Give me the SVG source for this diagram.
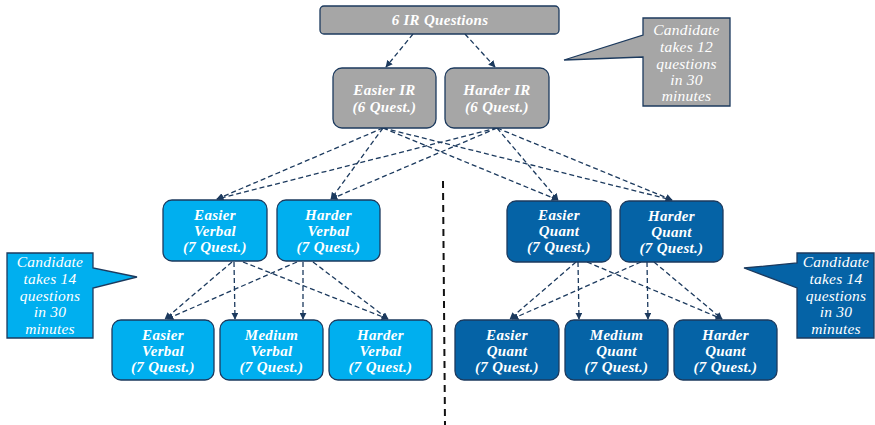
<svg xmlns="http://www.w3.org/2000/svg" width="875" height="425" viewBox="0 0 875 425">
<style>
.n{stroke:#1C3A5E;stroke-width:1.3}
.g{fill:#A6A6A6}
.lb{fill:#00AFEF}
.db{fill:#0563A6}
.t{font-family:"Liberation Serif",serif;font-weight:bold;font-style:italic;font-size:15px;letter-spacing:0.3px;fill:#fff;text-anchor:middle}
.c{font-family:"Liberation Serif",serif;font-style:italic;font-size:15.5px;letter-spacing:0.2px;fill:#fff;text-anchor:middle}
.e{fill:none;stroke:#1C3A5E;stroke-width:1.3;stroke-dasharray:5 3;marker-end:url(#a)}
</style>
<defs>
<marker id="a" viewBox="0 0 10 10" refX="9" refY="5" markerWidth="7" markerHeight="7" markerUnits="userSpaceOnUse" orient="auto"><path d="M0,0 L10,5 L0,10 z" fill="#1C3A5E"/></marker>
</defs>
<g id="connectors">
<path class="e" d="M413,34 L386,67"/>
<path class="e" d="M465,34 L495,67"/>
<path class="e" d="M383,128 L217,199"/>
<path class="e" d="M383,128 L331,199"/>
<path class="e" d="M383,128 L558,200"/>
<path class="e" d="M383,128 L672,200"/>
<path class="e" d="M497,128 L217,199"/>
<path class="e" d="M497,128 L331,199"/>
<path class="e" d="M497,128 L558,200"/>
<path class="e" d="M497,128 L672,200"/>
<path class="e" d="M232,262 L165,319"/>
<path class="e" d="M234,262 L235,319"/>
<path class="e" d="M243,262 L388,319"/>
<path class="e" d="M297,262 L167,319"/>
<path class="e" d="M303,262 L303,319"/>
<path class="e" d="M313,262 L388,319"/>
<path class="e" d="M576,262 L510,319"/>
<path class="e" d="M578,262 L579,319"/>
<path class="e" d="M587,262 L722,319"/>
<path class="e" d="M641,262 L512,319"/>
<path class="e" d="M647,262 L648,319"/>
<path class="e" d="M654,262 L722,319"/>
</g>
<line x1="443" y1="181" x2="445" y2="425" stroke="#111" stroke-width="2" stroke-dasharray="7 5"/>
<g id="top">
<rect class="n g" x="320" y="6" width="239" height="28" rx="4"/>
<text class="t" x="440" y="25">6 IR Questions</text>
</g>
<g id="easier-ir">
<rect class="n g" x="333" y="68" width="103" height="60" rx="9"/>
<text class="t" x="384.5" y="95">Easier IR</text>
<text class="t" x="384.5" y="112">(6 Quest.)</text>
</g>
<g id="harder-ir">
<rect class="n g" x="445" y="68" width="104" height="60" rx="9"/>
<text class="t" x="497" y="95">Harder IR</text>
<text class="t" x="497" y="112">(6 Quest.)</text>
</g>
<g id="callout-ir">
<path class="n g" d="M643,18 H730 V106 H643 V57 L564,60 L643,35 Z"/>
<text class="c" x="686.5" y="35">Candidate</text>
<text class="c" x="686.5" y="52">takes 12</text>
<text class="c" x="686.5" y="69">questions</text>
<text class="c" x="686.5" y="85">in 30</text>
<text class="c" x="686.5" y="101">minutes</text>
</g>
<g id="easier-verbal">
<rect class="n lb" x="163" y="200" width="104" height="61" rx="9"/>
<text class="t" x="215" y="220">Easier</text>
<text class="t" x="215" y="236">Verbal</text>
<text class="t" x="215" y="252">(7 Quest.)</text>
</g>
<g id="harder-verbal">
<rect class="n lb" x="277" y="200" width="103" height="61" rx="9"/>
<text class="t" x="328.5" y="220">Harder</text>
<text class="t" x="328.5" y="236">Verbal</text>
<text class="t" x="328.5" y="252">(7 Quest.)</text>
</g>
<g id="easier-quant">
<rect class="n db" x="507" y="201" width="104" height="61" rx="9"/>
<text class="t" x="559" y="220">Easier</text>
<text class="t" x="559" y="236">Quant</text>
<text class="t" x="559" y="252">(7 Quest.)</text>
</g>
<g id="harder-quant">
<rect class="n db" x="620" y="201" width="103" height="61" rx="9"/>
<text class="t" x="671.5" y="221">Harder</text>
<text class="t" x="671.5" y="237">Quant</text>
<text class="t" x="671.5" y="253">(7 Quest.)</text>
</g>
<g id="callout-verbal">
<path class="n lb" d="M7,253 H93 V268 L137,277 L93,288 V338 H7 Z"/>
<text class="c" x="50" y="267">Candidate</text>
<text class="c" x="50" y="284">takes 14</text>
<text class="c" x="50" y="301">questions</text>
<text class="c" x="50" y="317">in 30</text>
<text class="c" x="50" y="334">minutes</text>
</g>
<g id="callout-quant">
<path class="n db" d="M797,253 H874 V338 H797 V288 L744,268 L797,263 Z"/>
<text class="c" x="836" y="267">Candidate</text>
<text class="c" x="836" y="284">takes 14</text>
<text class="c" x="836" y="301">questions</text>
<text class="c" x="836" y="317">in 30</text>
<text class="c" x="836" y="334">minutes</text>
</g>
<g id="easier-verbal-2">
<rect class="n lb" x="112" y="320" width="102" height="60" rx="9"/>
<text class="t" x="163" y="340">Easier</text>
<text class="t" x="163" y="356">Verbal</text>
<text class="t" x="163" y="372">(7 Quest.)</text>
</g>
<g id="medium-verbal">
<rect class="n lb" x="220" y="320" width="103" height="60" rx="9"/>
<text class="t" x="271.5" y="340">Medium</text>
<text class="t" x="271.5" y="356">Verbal</text>
<text class="t" x="271.5" y="372">(7 Quest.)</text>
</g>
<g id="harder-verbal-2">
<rect class="n lb" x="329" y="320" width="103" height="60" rx="9"/>
<text class="t" x="380.5" y="340">Harder</text>
<text class="t" x="380.5" y="356">Verbal</text>
<text class="t" x="380.5" y="372">(7 Quest.)</text>
</g>
<g id="easier-quant-2">
<rect class="n db" x="455" y="320" width="104" height="60" rx="9"/>
<text class="t" x="507" y="340">Easier</text>
<text class="t" x="507" y="356">Quant</text>
<text class="t" x="507" y="372">(7 Quest.)</text>
</g>
<g id="medium-quant">
<rect class="n db" x="565" y="320" width="103" height="60" rx="9"/>
<text class="t" x="616.5" y="340">Medium</text>
<text class="t" x="616.5" y="356">Quant</text>
<text class="t" x="616.5" y="372">(7 Quest.)</text>
</g>
<g id="harder-quant-2">
<rect class="n db" x="674" y="320" width="103" height="60" rx="9"/>
<text class="t" x="725.5" y="340">Harder</text>
<text class="t" x="725.5" y="356">Quant</text>
<text class="t" x="725.5" y="372">(7 Quest.)</text>
</g>
</svg>
